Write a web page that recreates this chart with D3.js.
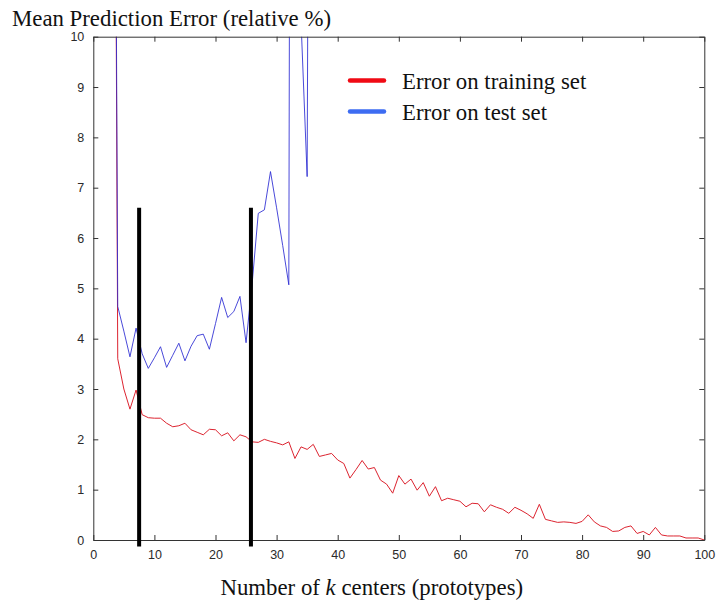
<!DOCTYPE html>
<html>
<head>
<meta charset="utf-8">
<script src="https://cdn.jsdelivr.net/npm/d3@7"></script>
<style>
  body { margin: 0; background: #fff; }
  svg { display: block; }
</style>
</head>
<body>
<script>
const width = 717
const height = 606
const margin = { top: 36.7, right: 12.7, bottom: 66, left: 93.3 }

// number of k centers
const kTrain = d3.range(3, 101)
const kTest = d3.range(3, 37)

// mean prediction error (relative %)
const trainError = [
  30, 3.6, 3.0, 2.6, 2.98, 2.49, 2.43, 2.42, 2.42, 2.32,
  2.25, 2.27, 2.32, 2.19, 2.14, 2.09, 2.2, 2.19, 2.07, 2.13,
  1.97, 2.09, 2.05, 1.95, 1.94, 2.0, 1.96, 1.93, 1.89, 1.95,
  1.62, 1.85, 1.8, 1.9, 1.66, 1.69, 1.72, 1.59, 1.52, 1.23,
  1.4, 1.58, 1.41, 1.44, 1.19, 1.11, 0.93, 1.28, 1.11, 1.21,
  0.99, 1.14, 0.87, 1.06, 0.78, 0.83, 0.8, 0.77, 0.66, 0.73,
  0.72, 0.56, 0.7, 0.65, 0.61, 0.53, 0.65, 0.59, 0.52, 0.43,
  0.71, 0.41, 0.38, 0.35, 0.36, 0.35, 0.33, 0.37, 0.5, 0.36,
  0.28, 0.25, 0.17, 0.18, 0.25, 0.28, 0.13, 0.17, 0.1, 0.25,
  0.1, 0.08, 0.08, 0.08, 0.04, 0.04, 0.04, 0.0
]
const testError = [
  30, 4.64, 4.15, 3.64, 4.21, 3.7, 3.41, 3.62, 3.84, 3.43,
  3.67, 3.91, 3.56, 3.85, 4.06, 4.09, 3.79, 4.3, 4.82, 4.42,
  4.54, 4.84, 3.92, 5.1, 6.49, 6.56, 7.32, 6.6, 5.85, 5.07,
  60, 10.3, 7.22, 40
]

// the two chosen k values
const markerK = [7.5, 25.8]
const markerRange = [-0.13, 6.6]

const xTicks = d3.range(0, 101, 10)
const yTicks = d3.range(0, 11, 1)

const legendItems = [
  { label: 'Error on training set', color: '#f00a14' },
  { label: 'Error on test set', color: '#3d6cf2' }
]

const serif = '"Liberation Serif", "Times New Roman", serif'

const svg = d3.select('body')
  .append('svg')
    .attr('width', width)
    .attr('height', height)

const x = d3.scaleLinear().domain([0, 100]).range([margin.left, width - margin.right])
const y = d3.scaleLinear().domain([0, 10]).range([height - margin.bottom, margin.top])

svg.append('clipPath')
    .attr('id', 'plot-clip')
  .append('rect')
    .attr('x', x(0))
    .attr('y', y(10))
    .attr('width', x(100) - x(0))
    .attr('height', y(0) - y(10))

const line = d3.line()
  .x((d) => x(d[0]))
  .y((d) => y(d[1]))

const plot = svg.append('g').attr('clip-path', 'url(#plot-clip)')

plot.append('path')
    .datum(d3.zip(kTrain, trainError))
    .attr('d', line)
    .attr('fill', 'none')
    .attr('stroke', '#dc2430')
    .attr('stroke-width', 1)

plot.append('path')
    .datum(d3.zip(kTest, testError))
    .attr('d', line)
    .attr('fill', 'none')
    .attr('stroke', '#2a2ad2')
    .attr('stroke-width', 1)
    .attr('stroke-opacity', 0.85)

// axes box, ticks on all four sides pointing inward
const axisColor = '#333'
const tickFont = '"Liberation Sans", Arial, sans-serif'

function styleAxis(g) {
  g.select('.domain').attr('stroke', axisColor)
  g.selectAll('.tick line').attr('stroke', axisColor)
  g.selectAll('.tick text')
    .attr('fill', '#2a2a2a')
    .style('font-family', tickFont)
    .style('font-size', '12.5px')
}

svg.append('g')
    .attr('transform', `translate(0,${y(0)})`)
    .call(d3.axisBottom(x).tickValues(xTicks).tickSize(-5).tickSizeOuter(0).tickPadding(10))
    .call(styleAxis)

svg.append('g')
    .attr('transform', `translate(0,${y(10)})`)
    .call(d3.axisTop(x).tickValues(xTicks).tickSize(-5).tickSizeOuter(0).tickFormat(''))
    .call(styleAxis)

svg.append('g')
    .attr('transform', `translate(${x(0)},0)`)
    .call(d3.axisLeft(y).tickValues(yTicks).tickSize(-5).tickSizeOuter(0).tickPadding(9))
    .call(styleAxis)

svg.append('g')
    .attr('transform', `translate(${x(100)},0)`)
    .call(d3.axisRight(y).tickValues(yTicks).tickSize(-5).tickSizeOuter(0).tickFormat(''))
    .call(styleAxis)

// vertical markers
svg.selectAll('line.marker')
  .data(markerK)
  .enter()
    .append('line')
    .attr('class', 'marker')
    .attr('x1', (d) => x(d))
    .attr('x2', (d) => x(d))
    .attr('y1', y(markerRange[1]))
    .attr('y2', y(markerRange[0]))
    .attr('stroke', '#000')
    .attr('stroke-width', 4)

// legend
const legend = svg.selectAll('g.legend')
  .data(legendItems)
  .enter()
    .append('g')
    .attr('class', 'legend')
    .attr('transform', (d, i) => `translate(350,${80.5 + i * 31})`)

legend.append('line')
    .attr('x1', 0)
    .attr('x2', 34)
    .attr('stroke', (d) => d.color)
    .attr('stroke-width', 4.5)
    .attr('stroke-linecap', 'round')

legend.append('text')
    .attr('x', 52)
    .attr('y', 8)
    .style('font-family', serif)
    .style('font-size', '22.8px')
    .attr('fill', '#111')
    .text((d) => d.label)

// titles
svg.append('text')
    .attr('x', 12)
    .attr('y', 26)
    .style('font-family', serif)
    .style('font-size', '22.8px')
    .attr('fill', '#111')
    .text('Mean Prediction Error (relative %)')

const xLabel = svg.append('text')
    .attr('x', 220.5)
    .attr('y', 595)
    .style('font-family', serif)
    .style('font-size', '22.8px')
    .attr('fill', '#111')

xLabel.append('tspan').text('Number of ')
xLabel.append('tspan').attr('font-style', 'italic').text('k')
xLabel.append('tspan').text(' centers (prototypes)')
</script>
</body>
</html>
